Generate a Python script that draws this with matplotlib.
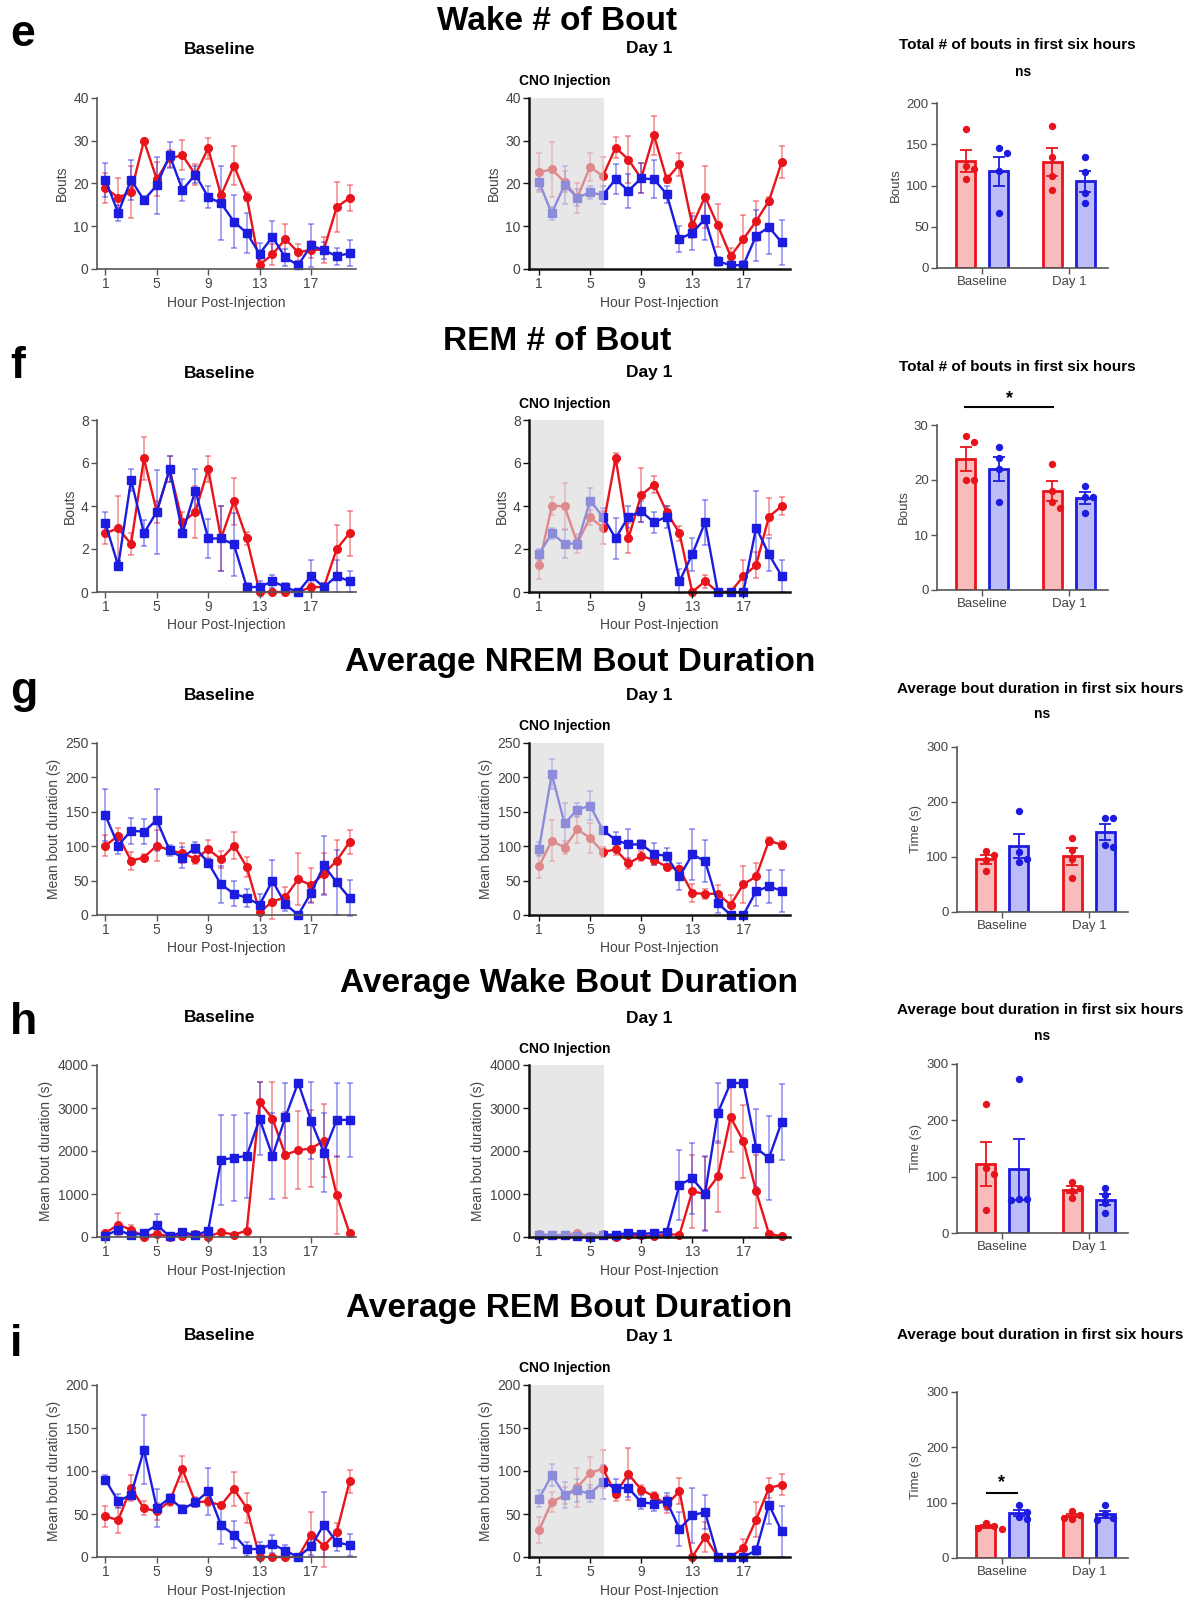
import numpy as np
import matplotlib
matplotlib.use("Agg")
import matplotlib.pyplot as plt

plt.rcParams["font.family"] = ["Liberation Sans", "DejaVu Sans"]

W, H = 1192, 1602
RED = "#e8141c"
BLUE = "#1c1ce0"
RED_FILL = "#f8bcbc"
BLUE_FILL = "#bcbcf6"
TXT = "#444444"

HOURS = np.arange(1, 21)
HOUR_TICKS = [1, 5, 9, 13, 17]
BAR_GROUPS = ["Baseline", "Day 1"]

# e - Wake # of bouts
wake_n_base_red = [19, 16.7, 18, 30, 21, 25.9, 26.6, 22.1, 28.2, 17.2, 24.2, 16.9, 1, 3.4, 7, 3.9, 4.5, 4.5, 14.5, 16.6]
wake_n_base_red_err = [3.5, 4.5, 6, 0.5, 4, 2, 3.5, 2.5, 2.5, 1, 4.5, 1, 1, 2.5, 3.5, 2, 2, 3, 5.8, 3]
wake_n_base_blue = [20.9, 13.1, 20.9, 16.1, 19.6, 26.6, 18.5, 22.1, 16.8, 15.4, 11.1, 8.4, 3.6, 7.5, 2.7, 0.9, 5.5, 4.4, 3, 3.7]
wake_n_base_blue_err = [4, 1.8, 4.7, 1, 6.7, 3, 2.5, 2, 2.5, 8.6, 6.2, 4.7, 2.5, 3.8, 2, 1, 5, 2, 2, 3]
wake_n_day1_red = [22.6, 23.3, 20.4, 16.7, 23.9, 21.7, 28.4, 25.6, 21.2, 31.3, 21, 24.5, 10.2, 16.9, 10.2, 3, 7, 11.2, 15.9, 25]
wake_n_day1_red_err = [4.5, 6.5, 2.5, 3.5, 3.3, 4.5, 2.5, 5.5, 3.5, 4.6, 1, 2.7, 3, 7.3, 5.1, 1.8, 5.7, 4.7, 1, 3.8]
wake_n_day1_blue = [20.4, 13, 19.7, 16.7, 17.9, 17.3, 21, 18.3, 21.2, 21, 17.5, 7, 8.5, 11.7, 1.8, 0.9, 0.9, 7.8, 9.8, 6.2]
wake_n_day1_blue_err = [2, 1.5, 4.5, 2, 1.5, 2, 3.5, 4, 3.5, 4.5, 2, 3, 4, 5, 1, 1, 1, 6, 6.2, 5.3]
wake_n_bar_red = [[168, 124, 120, 108], [172, 135, 111, 95]]
wake_n_bar_blue = [[140, 145, 117, 67], [135, 116, 91, 79]]

# f - REM # of bouts
rem_n_base_red = [2.74, 2.96, 2.23, 6.22, 3.73, 5.71, 3.24, 3.73, 5.73, 2.49, 4.21, 2.49, 0, 0, 0, 0, 0.23, 0.23, 2.0, 2.74]
rem_n_base_red_err = [0.5, 1.5, 0.5, 1.0, 0.5, 0.6, 0.5, 1.2, 0.6, 1.5, 1.1, 0.3, 0, 0, 0, 0, 0.2, 0.2, 1.1, 1.05]
rem_n_base_blue = [3.2, 1.22, 5.22, 2.74, 3.73, 5.71, 2.74, 4.72, 2.49, 2.49, 2.21, 0.23, 0.23, 0.5, 0.23, 0, 0.74, 0.23, 0.74, 0.5]
rem_n_base_blue_err = [0.5, 0.2, 0.5, 0.6, 1.95, 0.6, 0.2, 1.0, 0.9, 1.5, 1.45, 0.2, 0.3, 0.3, 0.2, 0, 0.75, 0.2, 0.75, 0.5]
rem_n_day1_red = [1.25, 4.0, 4.0, 2.26, 3.47, 3.0, 6.23, 2.5, 4.5, 5.0, 3.72, 2.73, 0, 0.5, 0, 0, 0.73, 1.25, 3.5, 4.0]
rem_n_day1_red_err = [0.65, 0.4, 1.05, 0.45, 0.35, 0.75, 0.25, 0.7, 1.25, 0.4, 0.3, 0.35, 0, 0.3, 0, 0, 0.75, 0.6, 0.85, 0.4]
rem_n_day1_blue = [1.75, 2.73, 2.25, 2.25, 4.25, 3.5, 2.5, 3.5, 3.75, 3.24, 3.5, 0.5, 1.75, 3.24, 0, 0, 0, 3.0, 1.75, 0.74]
rem_n_day1_blue_err = [0.25, 0.25, 0.65, 0.25, 0.6, 0.4, 0.95, 0.5, 0.5, 0.5, 0.5, 0.55, 0.75, 1.05, 0, 0, 0, 1.7, 0.75, 0.75]
rem_n_bar_red = [[27, 28, 20, 20], [23, 18, 15, 16]]
rem_n_bar_blue = [[26, 24, 22, 16], [19, 17, 17, 14]]

# g - Average NREM bout duration
nrem_d_base_red = [101, 115, 79, 83.5, 101, 94, 90, 81.5, 95.5, 81, 101, 70, 4.3, 19.3, 26, 52, 43.4, 60, 79, 106]
nrem_d_base_red_err = [15, 12, 13, 5, 22, 5, 15, 8, 13, 12, 19, 15, 5, 25, 15, 38, 25, 30, 30, 17]
nrem_d_base_blue = [145, 101, 122.6, 121, 138, 94, 83.5, 97.5, 76, 44.4, 31, 25, 15, 49.7, 16, 0, 32, 72, 47.3, 24.6]
nrem_d_base_blue_err = [38, 13, 19, 18, 45, 8, 15, 8, 5, 27, 18, 13, 15, 30, 10, 0, 15, 43, 47, 26]
nrem_d_day1_red = [70.5, 108, 98, 124.5, 112, 91.4, 95.3, 74.9, 85.6, 80.3, 70, 66.6, 32, 30.6, 31, 14.6, 44.7, 56, 108, 102]
nrem_d_day1_red_err = [16, 30, 10, 20, 22, 7, 8, 8, 7, 8, 4, 5, 13, 7, 13, 14, 27, 19, 5, 6]
nrem_d_day1_blue = [95.8, 205, 133, 153, 159, 123.5, 109, 102.6, 102.6, 89, 85.6, 56, 88, 78.3, 17.5, 0, 0, 34.5, 41.8, 35]
nrem_d_day1_blue_err = [10, 22, 30, 10, 21, 5, 12, 23, 6, 16, 12, 20, 37, 30, 15, 0, 0, 22, 24, 30]
nrem_d_bar_red = [[104, 111, 94, 75], [134, 112, 97, 61]]
nrem_d_bar_blue = [[184, 109, 97, 91], [170, 171, 119, 121]]

# h - Average Wake bout duration
wake_d_base_red = [93, 286, 170, 10, 77, 10, 30, 70, 10, 116, 54, 147, 3133, 2754, 1911, 2019, 2058, 2236, 975, 93]
wake_d_base_red_err = [50, 270, 120, 20, 40, 20, 40, 30, 20, 40, 20, 40, 470, 850, 1000, 900, 900, 850, 900, 50]
wake_d_base_blue = [31, 170, 39, 93, 279, 15, 116, 39, 147, 1795, 1841, 1888, 2747, 1880, 2785, 3590, 2708, 1965, 2723, 2723]
wake_d_base_blue_err = [20, 80, 30, 40, 250, 15, 40, 20, 60, 1040, 1000, 990, 850, 1000, 800, 0, 890, 930, 870, 870]
wake_d_day1_red = [77, 39, 54, 93, 15, 62, 5, 54, 39, 15, 62, 54, 1060, 1006, 1408, 2785, 2228, 1060, 77, 15]
wake_d_day1_red_err = [20, 15, 15, 30, 10, 15, 5, 20, 15, 10, 20, 20, 850, 850, 830, 810, 850, 850, 30, 10]
wake_d_day1_blue = [54, 39, 39, 15, 0, 54, 54, 93, 70, 93, 116, 1215, 1362, 1006, 2886, 3582, 3582, 2073, 1834, 2677]
wake_d_day1_blue_err = [15, 15, 15, 10, 10, 15, 15, 20, 20, 20, 30, 810, 830, 870, 700, 0, 0, 900, 980, 880]
wake_d_bar_red = [[229, 115, 104, 40], [90, 80, 75, 62]]
wake_d_bar_blue = [[273, 60, 58, 60], [80, 67, 53, 36]]

# i - Average REM bout duration
rem_d_base_red = [47.3, 43, 80.6, 56.6, 53.1, 64.7, 102, 63.6, 64.7, 60, 79, 57, 0, 0, 0, 0, 26, 13, 29, 88]
rem_d_base_red_err = [12, 15, 15, 8, 10, 5, 15, 6, 5, 3, 20, 18, 0, 0, 0, 0, 26, 25, 10, 13]
rem_d_base_blue = [90, 64.7, 72.5, 124.8, 57, 68.6, 55.8, 63.6, 76.4, 36.8, 26, 9.3, 9.3, 15.1, 7.4, 0, 12.4, 37.6, 17.4, 13.6]
rem_d_base_blue_err = [5, 8, 3, 40, 22, 5, 5, 5, 27, 22, 16, 8, 8, 10, 7, 0, 10, 38, 10, 13]
rem_d_day1_red = [31, 64, 71.7, 81, 97.7, 102.7, 73.6, 96.5, 78.3, 70.5, 60.9, 76.4, 0, 23.3, 0, 0, 10.5, 43.4, 80.2, 84]
rem_d_day1_red_err = [15, 12, 10, 23, 18, 22, 8, 30, 5, 5, 10, 15, 0, 17, 0, 0, 10, 20, 12, 12]
rem_d_day1_blue = [67.8, 95, 72.5, 77.5, 73.6, 87, 80.2, 80.2, 63.6, 62, 64.7, 32.6, 48.4, 52.3, 0, 0, 0, 7.8, 60.9, 29.8]
rem_d_day1_blue_err = [10, 13, 15, 13, 10, 20, 10, 10, 8, 8, 10, 20, 32, 20, 0, 0, 0, 5, 22, 30]
rem_d_bar_red = [[63, 58, 55, 52], [85, 78, 73, 70]]
rem_d_bar_blue = [[95, 83, 75, 70], [95, 80, 73, 68]]


def px_box(x0, y0, x1, y1):
    return [x0 / W, 1 - y1 / H, (x1 - x0) / W, (y1 - y0) / H]


def ftext(x, y, s, **kw):
    fig.text(x / W, 1 - y / H, s, **kw)


def style_axes(ax, lw, color):
    for side in ("top", "right"):
        ax.spines[side].set_visible(False)
    for side in ("left", "bottom"):
        ax.spines[side].set_linewidth(lw)
        ax.spines[side].set_color(color)
        ax.spines[side].set_zorder(10)
    ax.tick_params(direction="out", length=4, width=1, color=color,
                   labelsize=10, labelcolor=TXT, pad=2)
    ax.xaxis.set_zorder(10)
    ax.yaxis.set_zorder(10)


def line_panel(ax, red, red_err, blue, blue_err, ymax, ystep, ylabel, shade):
    for y, e, c, m in ((red, red_err, RED, "o"), (blue, blue_err, BLUE, "s")):
        ax.errorbar(HOURS, y, yerr=e, fmt="none", ecolor=c, elinewidth=1.1,
                    capsize=2.5, capthick=1.1, alpha=0.5, zorder=2, clip_on=False)
        ax.plot(HOURS, y, color=c, lw=1.7, marker=m, ms=5.5, zorder=3, clip_on=False)
    if shade:
        ax.set_xlim(0.22, 20.65)
        ax.axvspan(0.22, 6.1, color="#d8d8d8", alpha=0.6, lw=0, zorder=5)
        style_axes(ax, 1.8, "#111111")
    else:
        ax.set_xlim(0.35, 20.5)
        style_axes(ax, 1.2, "#555555")
    ax.set_ylim(0, ymax)
    ax.set_yticks(np.arange(0, ymax + ystep / 2, ystep))
    ax.set_xticks(HOUR_TICKS)
    ax.set_ylabel(ylabel, fontsize=10, color=TXT, labelpad=3)
    ax.set_xlabel("Hour Post-Injection", fontsize=10, color=TXT, labelpad=3)


def swarm_offsets(vals, ymax, height_px, unit_px=87.0, diam=7.0, step=8.0):
    # simple beeswarm: place points from the top down, shift sideways on collision
    ys = np.asarray(vals, float) / ymax * height_px
    placed = []
    offs = np.zeros(len(ys))
    cands = [0.0]
    for k in range(1, 6):
        cands += [k * step, -k * step]
    for idx in np.argsort(-ys):
        for cx in cands:
            if all(np.hypot(cx - px, ys[idx] - py) >= diam for px, py in placed):
                break
        placed.append((cx, ys[idx]))
        offs[idx] = cx / unit_px
    return offs


def bar_panel(ax, reds, blues, ymax, ystep, ylabel, height_px):
    for gi in range(len(BAR_GROUPS)):
        for vals, off, c, fc in ((reds[gi], -0.19, RED, RED_FILL), (blues[gi], 0.19, BLUE, BLUE_FILL)):
            vals = np.asarray(vals, float)
            m = vals.mean()
            se = vals.std(ddof=1) / np.sqrt(len(vals))
            ax.bar(gi + off, m, width=0.22, color=fc, edgecolor=c, lw=2, zorder=2)
            ax.errorbar(gi + off, m, yerr=se, fmt="none", ecolor=c, elinewidth=1.3,
                        capsize=4, capthick=1.3, zorder=3)
            ax.scatter(gi + off + swarm_offsets(vals, ymax, height_px), vals, s=28,
                       color=c, zorder=4, clip_on=False, linewidths=0)
    ax.set_xlim(-0.52, 1.45)
    ax.set_ylim(0, ymax)
    ax.set_yticks(np.arange(0, ymax + ystep / 2, ystep))
    ax.set_xticks(range(len(BAR_GROUPS)))
    ax.set_xticklabels(BAR_GROUPS)
    style_axes(ax, 1.2, "#555555")
    ax.tick_params(labelsize=9.5)
    ax.set_ylabel(ylabel, fontsize=9.5, color=TXT, labelpad=3)


fig = plt.figure(figsize=(W / 100, H / 100), dpi=100)

rows = [
    dict(letter="e", title="Wake # of Bout", ty=22, tx=557, top=98, bot=269,
         data=(wake_n_base_red, wake_n_base_red_err, wake_n_base_blue, wake_n_base_blue_err),
         day1=(wake_n_day1_red, wake_n_day1_red_err, wake_n_day1_blue, wake_n_day1_blue_err),
         ymax=40, ystep=10, ylabel="Bouts",
         bars=(wake_n_bar_red, wake_n_bar_blue), bar_box=(937, 103, 1108, 268), bar_ymax=200,
         bar_step=50, bar_ylabel="Bouts", bar_title="Total # of bouts in first six hours"),
    dict(letter="f", title="REM # of Bout", ty=341, tx=557, top=420, bot=592,
         data=(rem_n_base_red, rem_n_base_red_err, rem_n_base_blue, rem_n_base_blue_err),
         day1=(rem_n_day1_red, rem_n_day1_red_err, rem_n_day1_blue, rem_n_day1_blue_err),
         ymax=8, ystep=2, ylabel="Bouts",
         bars=(rem_n_bar_red, rem_n_bar_blue), bar_box=(937, 425, 1108, 590), bar_ymax=30,
         bar_step=10, bar_ylabel="Bouts", bar_title="Total # of bouts in first six hours"),
    dict(letter="g", title="Average NREM Bout Duration", ty=662, tx=580, top=743, bot=915,
         data=(nrem_d_base_red, nrem_d_base_red_err, nrem_d_base_blue, nrem_d_base_blue_err),
         day1=(nrem_d_day1_red, nrem_d_day1_red_err, nrem_d_day1_blue, nrem_d_day1_blue_err),
         ymax=250, ystep=50, ylabel="Mean bout duration (s)",
         bars=(nrem_d_bar_red, nrem_d_bar_blue), bar_box=(957, 747, 1128, 912), bar_ymax=300,
         bar_step=100, bar_ylabel="Time (s)", bar_title="Average bout duration in first six hours"),
    dict(letter="h", title="Average Wake Bout Duration", ty=983, tx=569, top=1065, bot=1237,
         data=(wake_d_base_red, wake_d_base_red_err, wake_d_base_blue, wake_d_base_blue_err),
         day1=(wake_d_day1_red, wake_d_day1_red_err, wake_d_day1_blue, wake_d_day1_blue_err),
         ymax=4000, ystep=1000, ylabel="Mean bout duration (s)",
         bars=(wake_d_bar_red, wake_d_bar_blue), bar_box=(957, 1064, 1128, 1233), bar_ymax=300,
         bar_step=100, bar_ylabel="Time (s)", bar_title="Average bout duration in first six hours"),
    dict(letter="i", title="Average REM Bout Duration", ty=1308, tx=569, top=1385, bot=1557,
         data=(rem_d_base_red, rem_d_base_red_err, rem_d_base_blue, rem_d_base_blue_err),
         day1=(rem_d_day1_red, rem_d_day1_red_err, rem_d_day1_blue, rem_d_day1_blue_err),
         ymax=200, ystep=50, ylabel="Mean bout duration (s)",
         bars=(rem_d_bar_red, rem_d_bar_blue), bar_box=(957, 1392, 1128, 1558), bar_ymax=300,
         bar_step=100, bar_ylabel="Time (s)", bar_title="Average bout duration in first six hours"),
]

letter_y = [46, 378, 703, 1034, 1356]
sub_y = [49, 373, 695, 1018, 1336]
cno_y = [81, 404, 726, 1049, 1368]
bar_title_y = [45, 367, 689, 1010, 1335]

for k, r in enumerate(rows):
    ftext(10, letter_y[k], r["letter"], fontsize=32, fontweight="bold", va="baseline", ha="left")
    ftext(r["tx"], r["ty"], r["title"], fontsize=24, fontweight="bold", ha="center", va="center")
    ftext(220, sub_y[k], "Baseline", fontsize=12.5, fontweight="bold", ha="center", va="center")
    ftext(649, sub_y[k], "Day 1", fontsize=12.5, fontweight="bold", ha="center", va="center")
    ftext(565, cno_y[k], "CNO Injection", fontsize=10, fontweight="bold", ha="center", va="center")

    ax_b = fig.add_axes(px_box(97, r["top"], 356, r["bot"]))
    line_panel(ax_b, *r["data"], r["ymax"], r["ystep"], r["ylabel"], shade=False)
    ax_d = fig.add_axes(px_box(529, r["top"], 790, r["bot"]))
    line_panel(ax_d, *r["day1"], r["ymax"], r["ystep"], r["ylabel"], shade=True)

    bx0, by0, bx1, by1 = r["bar_box"]
    ax_bar = fig.add_axes(px_box(bx0, by0, bx1, by1))
    bar_panel(ax_bar, *r["bars"], r["bar_ymax"], r["bar_step"], r["bar_ylabel"], by1 - by0)
    ftext(1017 if k < 2 else 1040, bar_title_y[k], r["bar_title"],
          fontsize=11, fontweight="bold", ha="center", va="center")

# significance labels
ftext(1023, 72, "ns", fontsize=10, fontweight="bold", ha="center", va="center")
ftext(1042, 714, "ns", fontsize=10, fontweight="bold", ha="center", va="center")
ftext(1042, 1036, "ns", fontsize=10, fontweight="bold", ha="center", va="center")

fig.add_artist(plt.Line2D([965 / W, 1053 / W], [1 - 407 / H, 1 - 407 / H], color="black", lw=1.5))
ftext(1009, 399, "*", fontsize=13, fontweight="bold", ha="center", va="center")
fig.add_artist(plt.Line2D([987 / W, 1017 / W], [1 - 1493 / H, 1 - 1493 / H], color="black", lw=1.5))
ftext(1002, 1483, "*", fontsize=13, fontweight="bold", ha="center", va="center")

fig.savefig("out.png", dpi=100)
